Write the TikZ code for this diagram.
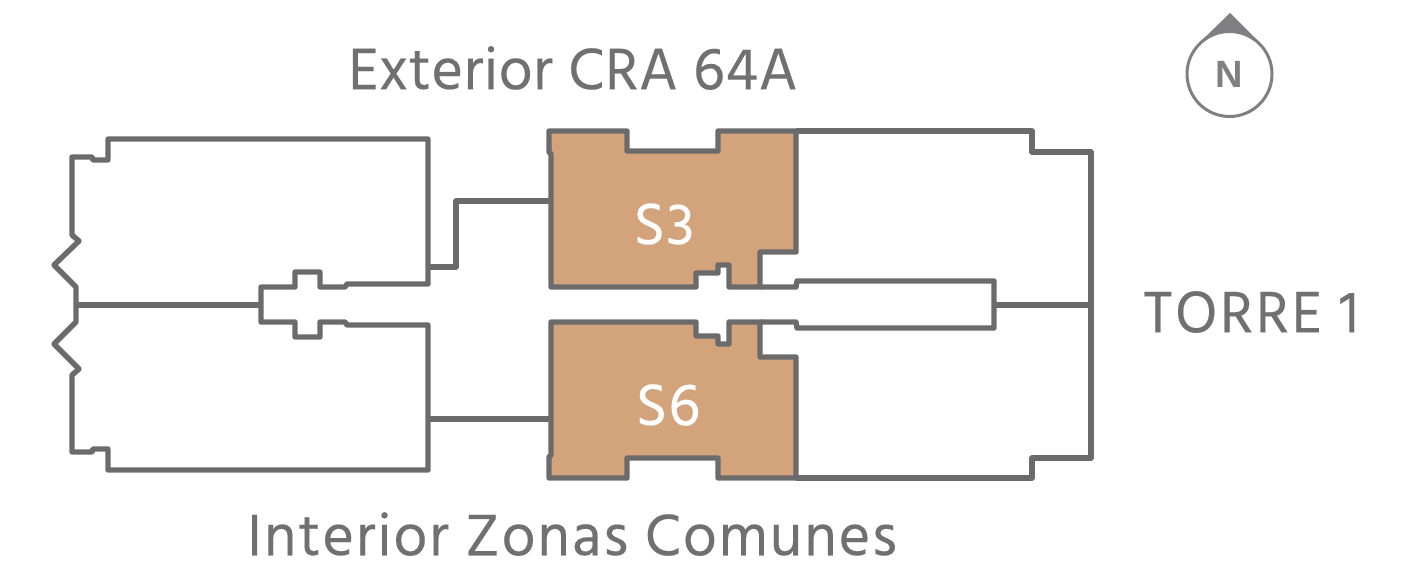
\documentclass[tikz,border=0pt]{standalone}
\usepackage{fontspec}
\setmainfont[LetterSpace=2.2,FakeBold=0.25]{Hind Madurai}
\newfontfamily\northfont{Liberation Sans}
\usetikzlibrary{positioning}
\definecolor{wallgray}{HTML}{6B6B6B}
\definecolor{textgray}{HTML}{707070}
\definecolor{northgray}{HTML}{808083}
\definecolor{unitfill}{HTML}{D3A47C}

\begin{document}
\begin{tikzpicture} [x=1pt, y=-1pt, line join=round,
  wall/.style = {draw=wallgray, line width=5.4pt},
  unit/.style = {wall, fill=unitfill},
  label/.style = {text=textgray, font=\fontsize{60}{60}\selectfont, inner sep=0pt},
  unitname/.style = {text=white, font=\fontsize{60}{60}\selectfont, inner sep=0pt}]
\useasboundingbox (0,0) rectangle (1415,564);

\path[wall] (108,139) -- (108,160) -- (93,160) -- (92,157) -- (72,157) -- (72,235) -- (79,241) -- (54,265) -- (76,287)
  -- (76,322) -- (54,344) -- (79,369) -- (72,375) -- (72,452) -- (92,452) -- (93,449) -- (108,449) -- (108,470)
  -- (428,470) -- (428,325) -- (347,325) -- (345,322) -- (320,322) -- (320,337) -- (295,337) -- (295,322) -- (261,322)
  -- (261,287) -- (295,287) -- (295,272) -- (320,272) -- (320,287) -- (345,287) -- (347,284) -- (428,284) -- (428,139) -- cycle;

\path[unit] (549,131) -- (627,131) -- (627,151) -- (718,151) -- (718,131) -- (796,131) -- (796,252) -- (760,252) -- (760,287)
  -- (729,287) -- (729,265) -- (718,265) -- (718,273) -- (696,273) -- (696,287) -- (551,287) -- (551,154) -- (549,152) -- cycle;
\path[unit] (549,478) -- (627,478) -- (627,458) -- (718,458) -- (718,478) -- (796,478) -- (796,357) -- (760,357) -- (760,322)
  -- (729,322) -- (729,344) -- (718,344) -- (718,336) -- (696,336) -- (696,322) -- (551,322) -- (551,455) -- (549,457) -- cycle;

\path[wall] (796,131) -- (1032,131) -- (1032,152) -- (1091,152) -- (1091,458) -- (1032,458) -- (1032,478) -- (796,478);
\path[wall] (760,287) -- (796,287) -- (797,281) -- (994,281) -- (994,328) -- (797,328) -- (796,322) -- (760,322);

\coordinate (left_core) at (76,305);
\coordinate (left_stair) at (261,305);
\coordinate (right_core) at (994,305);
\coordinate (right_edge) at (1091,305);
\coordinate (top_out) at (428,267);
\coordinate (top_in) at (551,201);
\coordinate (bottom_out) at (428,419);
\coordinate (bottom_in) at (551,419);

\draw[wall] (left_core) -- (left_stair);
\draw[wall] (right_core) -- (right_edge);
\draw[wall] (top_out) -- (456,267) -- (456,201) -- (top_in);
\draw[wall] (bottom_out) -- (bottom_in);

\node[unitname] (s_three) at (664,224) {S3};
\node[unitname] (s_six) at (668,405) {S6};
\node[label] (exterior) at (573,68) {\addfontfeature{LetterSpace=1.3}Exterior CRA 64A};
\node[label] (interior) at (572,534) {\addfontfeature{LetterSpace=3.4}Interior Zonas Comunes};
\node[label] (torre) at (1251,312) {\addfontfeature{LetterSpace=4.8}TORRE 1};

\fill[northgray] (1230,13) -- (1199,43) -- (1260,43) -- cycle;
\node[circle, draw=northgray, line width=3pt, fill=white, minimum size=85pt, inner sep=0pt,
  text=northgray, font=\northfont\bfseries\fontsize{38}{38}\selectfont] (north) at (1229.5,74) {N};
\end{tikzpicture}
\end{document}
